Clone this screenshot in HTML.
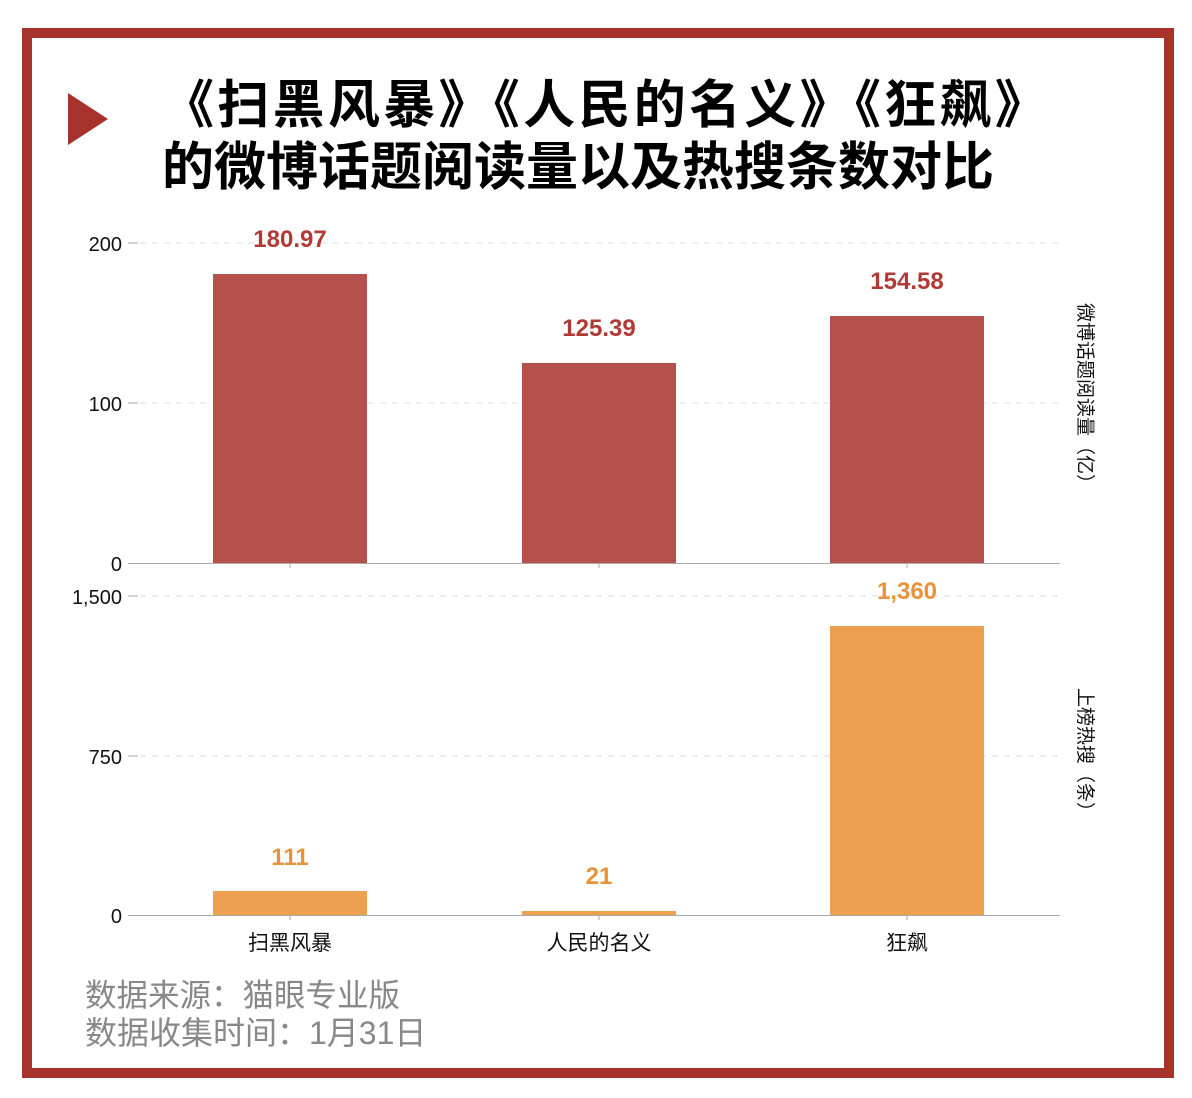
<!DOCTYPE html>
<html><head><meta charset="utf-8"><style>
body{margin:0;width:1192px;height:1098px;background:#fff;position:relative;overflow:hidden;font-family:"Liberation Sans","Noto Sans CJK SC",sans-serif}
.abs{position:absolute}
.frame{left:22px;top:28px;width:1132px;height:1030px;border:10px solid #a8322c}
.title{left:162px;width:1000px;white-space:nowrap;font-size:52px;font-weight:bold;color:#000;line-height:60px}
.vt{writing-mode:vertical-rl;text-orientation:sideways;font-size:19px;color:#111;left:1073px;white-space:nowrap}
</style></head><body>
<div class="abs frame"></div>
<svg class="abs" style="left:0;top:0" width="1192" height="1098">
<polygon points="68,93 108,119 68,145" fill="#a8322c"/>
<g stroke="#ddd" stroke-dasharray="6,6" stroke-width="1">
<line x1="140" y1="243" x2="1060" y2="243"/><line x1="140" y1="403" x2="1060" y2="403"/>
<line x1="140" y1="596" x2="1060" y2="596"/><line x1="140" y1="756" x2="1060" y2="756"/>
</g>
<g stroke="#aaa"><line x1="128" y1="243" x2="138" y2="243"/><line x1="128" y1="403" x2="138" y2="403"/>
<line x1="128" y1="596" x2="138" y2="596"/><line x1="128" y1="756" x2="138" y2="756"/>
<line x1="128" y1="563.5" x2="1060" y2="563.5"/><line x1="128" y1="915.5" x2="1060" y2="915.5"/>
<line x1="290" y1="563" x2="290" y2="568"/><line x1="599" y1="563" x2="599" y2="568"/><line x1="907" y1="563" x2="907" y2="568"/>
<line x1="290" y1="915" x2="290" y2="920"/><line x1="599" y1="915" x2="599" y2="920"/><line x1="907" y1="915" x2="907" y2="920"/></g>
<g fill="#b5504b"><rect x="213" y="274" width="154" height="289"/><rect x="522" y="363" width="154" height="200"/><rect x="830" y="316" width="154" height="247"/></g>
<g fill="#eda050"><rect x="213" y="891" width="154" height="24"/><rect x="522" y="911" width="154" height="4"/><rect x="830" y="626" width="154" height="289"/></g>
<g font-family="Liberation Sans,sans-serif" font-size="20" fill="#111" text-anchor="end">
<text x="122" y="251">200</text><text x="122" y="411">100</text><text x="122" y="571">0</text>
<text x="122" y="604">1,500</text><text x="122" y="764">750</text><text x="122" y="923">0</text></g>
<g font-family="Liberation Sans,sans-serif" font-size="24" font-weight="bold" text-anchor="middle">
<g fill="#b03a34"><text x="290" y="247">180.97</text><text x="599" y="336">125.39</text><text x="907" y="289">154.58</text></g>
<g fill="#e8933a"><text x="290" y="865">111</text><text x="599" y="884">21</text><text x="907" y="599">1,360</text></g></g>
<g font-family="Liberation Sans,Noto Sans CJK SC,sans-serif" font-size="21" fill="#111" text-anchor="middle">
<text x="290" y="950">扫黑风暴</text><text x="599" y="950">人民的名义</text><text x="907" y="950">狂飙</text></g>
<g font-family="Liberation Sans,Noto Sans CJK SC,sans-serif" font-size="31.5" fill="#888">
<text x="85" y="1006">数据来源：猫眼专业版</text><text x="85" y="1044" font-size="32">数据收集时间：1月31日</text></g>
</svg>
<div class="abs title" style="top:76px;letter-spacing:3.3px">《扫黑风暴》《人民的名义》《狂飙》</div>
<div class="abs title" style="top:138px">的微博话题阅读量以及热搜条数对比</div>
<div class="abs vt" style="top:303px">微博话题阅读量（亿）</div>
<div class="abs vt" style="top:688px">上榜热搜（条）</div>
</body></html>
